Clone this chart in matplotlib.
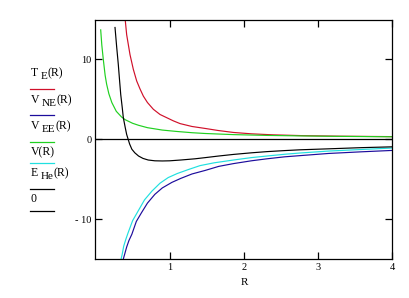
import matplotlib
matplotlib.use("Agg")
import matplotlib.pyplot as plt
from matplotlib.lines import Line2D

# ---- data ----
R_T = [0.40, 0.42, 0.465, 0.51, 0.555, 0.60, 0.645, 0.70, 0.78, 0.87, 0.96, 1.05, 1.14,
       1.30, 1.48, 1.65, 1.86, 2.1, 2.4, 2.8, 3.3, 3.7, 4.0]
T_E = [15.0, 13.1, 10.6, 8.75, 7.3, 6.3, 5.4, 4.6, 3.75, 3.1, 2.7, 2.3, 1.96,
       1.6, 1.35, 1.1, 0.85, 0.68, 0.55, 0.45, 0.38, 0.35, 0.33]

R_NE = [0.375, 0.39, 0.42, 0.45, 0.49, 0.55, 0.62, 0.70, 0.80, 0.90, 1.03, 1.15, 1.30,
        1.48, 1.66, 1.86, 2.1, 2.31, 2.55, 2.76, 3.14, 3.59, 4.0]
V_NE = [-15.0, -14.5, -13.5, -12.7, -11.9, -10.3, -9.2, -8.0, -6.9, -6.1, -5.4, -4.9, -4.35,
        -3.9, -3.4, -3.05, -2.7, -2.45, -2.2, -2.05, -1.78, -1.57, -1.4]

R_EE = [0.07, 0.085, 0.105, 0.13, 0.15, 0.18, 0.22, 0.28, 0.35, 0.40, 0.50, 0.58, 0.70,
        0.80, 0.90, 1.09, 1.30, 1.48, 1.86, 2.31, 2.76, 3.2, 3.6, 4.0]
V_EE = [13.7, 11.8, 10.0, 8.0, 6.9, 5.7, 4.6, 3.5, 2.8, 2.45, 2.0, 1.75, 1.45,
        1.3, 1.15, 0.98, 0.82, 0.72, 0.58, 0.48, 0.42, 0.37, 0.34, 0.31]

R_V = [0.345, 0.36, 0.38, 0.41, 0.44, 0.50, 0.58, 0.66, 0.76, 0.87, 0.98, 1.10, 1.25,
       1.41, 1.60, 1.86, 2.1, 2.31, 2.55, 2.76, 3.14, 3.59, 4.0]
V = [-15.0, -14.4, -13.4, -12.5, -11.7, -10.2, -8.9, -7.6, -6.5, -5.5, -4.8, -4.3, -3.8,
     -3.3, -2.95, -2.6, -2.3, -2.1, -1.88, -1.72, -1.48, -1.28, -1.1]

R_E = [0.263, 0.285, 0.307, 0.325, 0.34, 0.36, 0.375, 0.40, 0.42, 0.44, 0.46, 0.49,
       0.53, 0.58, 0.64, 0.71, 0.80, 0.90, 1.00, 1.15, 1.34, 1.48, 1.66, 1.86, 2.1, 2.31,
       2.55, 2.76, 3.14, 3.59, 4.0]
E_He = [14.0, 11.6, 9.4, 7.3, 5.6, 4.0, 2.7, 1.5, 0.6, 0.0, -0.6, -1.25,
        -1.7, -2.1, -2.4, -2.6, -2.7, -2.72, -2.7, -2.6, -2.45, -2.3, -2.1, -1.9, -1.7, -1.55,
        -1.42, -1.32, -1.2, -1.05, -0.95]

zero_x = [0, 4]
zero_y = [0, 0]

x_ticks = [1, 2, 3, 4]
x_ticklabels = ["1", "2", "3", "4"]
y_ticks = [-10, 0, 10]
y_ticklabels = ["- 10", "0", "10"]

# legend labels: (main, subscript, tail)
labels = [("T", "E", "(R)"), ("V", "NE", "(R)"), ("V", "EE", "(R)"),
          ("V(R)", "", ""), ("E", "He", "(R)"), ("0", "", "")]
colors = ["#d0102a", "#1c0c9c", "#20d020", "#20e0e0", "#000000", "#000000"]

plt.rcParams["font.family"] = ["Liberation Serif", "DejaVu Serif"]

W, H = 410, 298
fig = plt.figure(figsize=(W / 100, H / 100), dpi=100)
left, right, top, bottom = 95.5, 392.3, 19.5, 259.0
ax = fig.add_axes([left / W, 1 - bottom / H, (right - left) / W, (bottom - top) / H])

lw = 0.85
ax.plot(R_T, T_E, color=colors[0], lw=lw)
ax.plot(R_NE, V_NE, color=colors[1], lw=lw)
ax.plot(R_EE, V_EE, color=colors[2], lw=lw)
ax.plot(R_V, V, color=colors[3], lw=lw)
ax.plot(R_E, E_He, color=colors[4], lw=lw)
ax.plot(zero_x, zero_y, color=colors[5], lw=0.9)

ax.set_xlim(0, 4)
ax.set_ylim(-15, 15)
ax.set_xticks(x_ticks)
ax.set_xticklabels(x_ticklabels)
ax.set_yticks(y_ticks)
ax.set_yticklabels(y_ticklabels)
ax.tick_params(direction="in", length=5, width=0.9, labelsize=7.5, pad=3,
               top=True, right=True, colors="black")
for s in ax.spines.values():
    s.set_linewidth(0.9)
ax.set_xlabel("R", fontsize=8, labelpad=4)

# legend (Mathcad style: label above a short line)
text_y = [73, 100, 126, 152, 173, 199]
line_y = [89, 115, 141.7, 163.3, 189.3, 211.3]
fig.canvas.draw()
renderer = fig.canvas.get_renderer()
fs_main, fs_sub = 8.5, 8.0
for (main, sub, tail), c, ty, ly in zip(labels, colors, text_y, line_y):
    x = 30.5
    t = fig.text(x / W, 1 - ty / H, main, fontsize=fs_main, va="center", ha="left")
    x += t.get_window_extent(renderer).width
    if sub:
        x += 3
        t2 = fig.text(x / W, 1 - (ty + 3.5) / H, sub, fontsize=fs_sub, va="center", ha="left")
        x += t2.get_window_extent(renderer).width
        fig.text(x / W, 1 - ty / H, tail, fontsize=fs_main, va="center", ha="left")
    fig.add_artist(Line2D([30 / W, 54.5 / W], [1 - ly / H, 1 - ly / H],
                          transform=fig.transFigure, color=c, lw=0.9))

fig.savefig("out.png", dpi=100)
